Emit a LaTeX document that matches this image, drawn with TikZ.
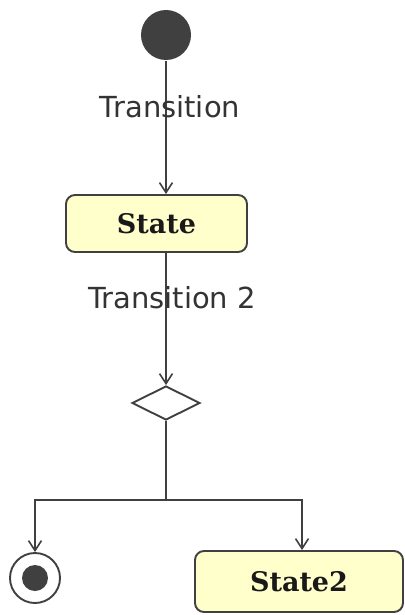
\documentclass[tikz,border=0pt]{standalone}
\usepackage{fontspec}
\setmainfont{DejaVu Sans}
\newfontfamily\statefont{DejaVu Serif}
\usetikzlibrary{arrows.meta,shapes.geometric}
\definecolor{lineg}{HTML}{404040}
\definecolor{stfill}{HTML}{FFFFCC}
\begin{document}
\begin{tikzpicture}[
  x=1pt, y=-1pt,
  line width=1.9pt, lineg,
  st/.style={draw=lineg, rounded corners=9pt, fill=stfill,
             font=\fontsize{27}{31}\selectfont\statefont\bfseries,
             text=black!90, inner sep=0pt},
  lbl/.style={font=\fontsize{29}{33}\selectfont, text=black!80},
  arr/.style={-{Straight Barb[length=10pt,width=13pt,line width=1.6pt]}},
]
\useasboundingbox (0,0) rectangle (404,615);

% ---- Start -----------------------------------------------------------------
\node[circle, fill=lineg, minimum size=50pt, inner sep=0pt] (init) at (166,35) {};

% ---- State -----------------------------------------------------------------
\node[st, minimum width=181pt, minimum height=57pt] (st1) at (156.5,223.5) {State};
\draw[arr] (init.south) -- (init.south |- st1.north);
\node[lbl] (t1) at (170,107) {Transition};

% ---- Decision --------------------------------------------------------------
\node[diamond, draw=lineg, fill=white, minimum width=68pt, minimum height=34pt,
      inner sep=0pt, aspect=2] (dec) at (166,403) {};
\draw[arr] (init.south |- st1.south) -- (dec.north);
\node[lbl] (t2) at (172,298) {Transition 2};

% ---- Branches --------------------------------------------------------------
\node[circle, draw=lineg, fill=white, minimum size=50pt, inner sep=0pt] (fin) at (35,578) {};
\node[circle, fill=lineg, minimum size=26pt, inner sep=0pt] at (fin) {};
\node[st, minimum width=208pt, minimum height=61pt] (st2) at (299,581.5) {State2};

\coordinate (fork) at (166,500);
\draw (dec.south) -- (fork);
\draw[arr] (fork) -| (fin.north);
\draw[arr] (fork) -| ([xshift=3pt]st2.north);

\end{tikzpicture}
\end{document}
